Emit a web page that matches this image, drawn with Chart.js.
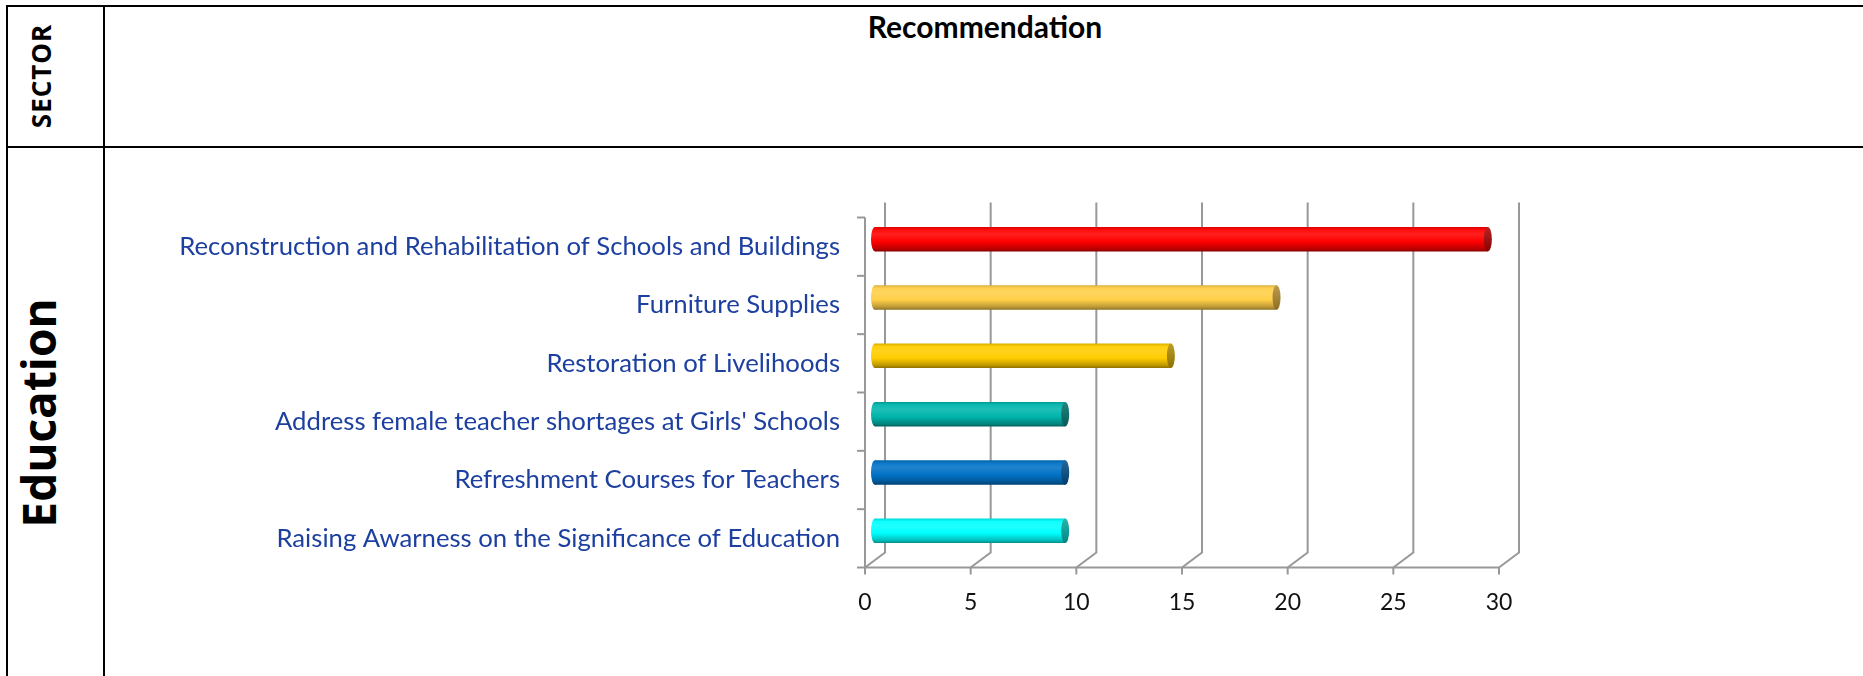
<!DOCTYPE html>
<html>
<head>
<meta charset="utf-8">
<title>Recommendation - Education</title>
<script src="https://cdn.jsdelivr.net/npm/chart.js@4/dist/chart.umd.min.js"></script>
<style>
  html, body { margin: 0; padding: 0; background: #fff; }
  body { width: 1863px; height: 676px; position: relative; overflow: hidden; }
  .rule { position: absolute; background: #000; }
  .vtext {
    position: absolute; transform: translate(-50%, -50%) rotate(-90deg);
    font-family: "Open Sans", sans-serif; font-weight: 700; color: #000; white-space: nowrap;
  }
  #head {
    position: absolute; left: 104px; width: 1762px; top: 8px; text-align: center;
    font-family: Lato, sans-serif; font-weight: 700; font-size: 30px; line-height: 36px; color: #000;
  }
  #chart { position: absolute; left: 104px; top: 149px; }
</style>
</head>
<body>
<!-- table frame -->
<div class="rule" style="left:6px; top:5px; width:1857px; height:2px;"></div>
<div class="rule" style="left:6px; top:5px; width:2px; height:671px;"></div>
<div class="rule" style="left:103px; top:5px; width:2px; height:671px;"></div>
<div class="rule" style="left:6px; top:146px; width:1857px; height:2px;"></div>

<div class="vtext" style="left:41px; top:76px; font-size:26px; letter-spacing:1px;">SECTOR</div>
<div id="head">Recommendation</div>
<div class="vtext" style="left:38px; top:413px; font-size:46px;">Education</div>

<canvas id="chart" width="1759" height="527"></canvas>

<script>
// categories, top to bottom
const categories = [
  'Reconstruction and Rehabilitation of Schools and Buildings',
  'Furniture Supplies',
  'Restoration of Livelihoods',
  "Address female teacher shortages at Girls' Schools",
  'Refreshment Courses for Teachers',
  'Raising Awarness on the Significance of Education'
];
const counts = [29, 19, 14, 9, 9, 9];
const barColors = ['#FF0000', '#FFCF48', '#FFCC00', '#00B5AC', '#0072C6', '#00FFFF'];
const capColors = ['#A80000', '#B08A2E', '#B08C00', '#00716B', '#004C88', '#00A8A2'];

const X_MIN = 0, X_MAX = 30, X_STEP = 5;
const BAR_PCT = 0.42;
// oblique depth of the 3D box (front -> back), bars sit half way in
const DEPTH_X = 20, DEPTH_Y = -15;
const GRID_COLOR = '#989898';

function mix(hex, toWhite, t) {
  const n = parseInt(hex.slice(1), 16);
  const r = n >> 16, g = (n >> 8) & 255, b = n & 255;
  const tg = toWhite ? 255 : 0;
  const f = c => Math.round(c + (tg - c) * t);
  return 'rgb(' + f(r) + ',' + f(g) + ',' + f(b) + ')';
}

function bodyGradient(ctx, base, c, h) {
  const g = ctx.createLinearGradient(0, c - h / 2, 0, c + h / 2);
  g.addColorStop(0, mix(base, false, 0.15));
  g.addColorStop(0.12, mix(base, true, 0.05));
  g.addColorStop(0.3, mix(base, true, 0.12));
  g.addColorStop(0.6, base);
  g.addColorStop(0.88, mix(base, false, 0.25));
  g.addColorStop(1, mix(base, false, 0.45));
  return g;
}

// cylinder-like shading across the bar thickness
function cylinderFill(context) {
  const chart = context.chart;
  const base = barColors[context.dataIndex];
  const yScale = chart.scales.y;
  if (!yScale || context.type !== 'data') return base;
  const c = yScale.getPixelForValue(context.dataIndex);
  const h = Math.abs(yScale.getPixelForValue(1) - yScale.getPixelForValue(0)) * BAR_PCT;
  if (!Number.isFinite(c) || !Number.isFinite(h) || h <= 0) return base;
  return bodyGradient(chart.ctx, base, c, h);
}

// back wall grid, floor diagonals and the front axes
const frame3d = {
  id: 'frame3d',
  beforeDatasetsDraw(chart) {
    const { ctx, chartArea: a, scales: { x } } = chart;
    const hx = DEPTH_X / 2, hy = DEPTH_Y / 2;
    const frontBottom = a.bottom - hy, frontTop = a.top - hy;
    ctx.save();
    ctx.strokeStyle = GRID_COLOR;
    ctx.lineWidth = 2;
    for (let v = X_MIN; v <= X_MAX; v += X_STEP) {
      const px = x.getPixelForValue(v);
      ctx.beginPath();
      ctx.moveTo(px + hx, a.top + hy);
      ctx.lineTo(px + hx, a.bottom + hy);
      ctx.lineTo(px - hx, frontBottom);
      ctx.stroke();
      // tick below the front axis
      ctx.beginPath();
      ctx.moveTo(px - hx, frontBottom);
      ctx.lineTo(px - hx, frontBottom + 7);
      ctx.stroke();
    }
    const x0 = x.getPixelForValue(X_MIN) - hx;
    const x1 = x.getPixelForValue(X_MAX) - hx;
    ctx.beginPath();
    ctx.moveTo(x0, frontBottom);
    ctx.lineTo(x1, frontBottom);
    ctx.moveTo(x0, frontTop);
    ctx.lineTo(x0, frontBottom);
    ctx.stroke();
    const n = categories.length;
    for (let i = 0; i <= n; i++) {
      const py = frontTop + (frontBottom - frontTop) * i / n;
      ctx.beginPath();
      ctx.moveTo(x0 - 8, py);
      ctx.lineTo(x0, py);
      ctx.stroke();
    }
    ctx.restore();
  },
  afterDatasetsDraw(chart) {
    const { ctx } = chart;
    const meta = chart.getDatasetMeta(0);
    ctx.save();
    meta.data.forEach((bar, i) => {
      const r = bar.height / 2;
      // rounded start of the cylinder
      ctx.beginPath();
      ctx.ellipse(bar.base, bar.y, 4, r, 0, 0, Math.PI * 2);
      ctx.fillStyle = bodyGradient(ctx, barColors[i], bar.y, bar.height);
      ctx.fill();
      // end face
      const g = ctx.createLinearGradient(0, bar.y - r, 0, bar.y + r);
      g.addColorStop(0, mix(capColors[i], true, 0.15));
      g.addColorStop(1, mix(capColors[i], false, 0.2));
      ctx.beginPath();
      ctx.ellipse(bar.x, bar.y, 4, r, 0, 0, Math.PI * 2);
      ctx.fillStyle = g;
      ctx.fill();
    });
    ctx.restore();
  }
};

function draw() {
  new Chart(document.getElementById('chart'), {
    type: 'bar',
    data: {
      labels: categories,
      datasets: [{
        data: counts,
        backgroundColor: cylinderFill,
        borderWidth: 0,
        borderSkipped: false,
        borderRadius: 0,
        barPercentage: BAR_PCT,
        categoryPercentage: 1
      }]
    },
    options: {
      indexAxis: 'y',
      responsive: false,
      animation: false,
      events: [],
      layout: { padding: { left: 0, top: 61, right: 354, bottom: 56 } },
      plugins: {
        legend: { display: false },
        title: { display: false },
        tooltip: { enabled: false }
      },
      scales: {
        x: {
          min: X_MIN,
          max: X_MAX,
          grid: { display: false, drawTicks: false },
          border: { display: false },
          ticks: {
            stepSize: X_STEP,
            padding: 29,
            labelOffset: -DEPTH_X / 2,
            color: '#111',
            font: { family: 'Lato', size: 23 }
          },
          afterFit: s => { s.height = 60; }
        },
        y: {
          grid: { display: false, drawTicks: false },
          border: { display: false },
          ticks: {
            padding: 35,
            labelOffset: -DEPTH_Y / 2,
            color: '#1C3FA0',
            font: { family: 'Lato', size: 25.7 }
          },
          afterFit: s => { s.width = 771; }
        }
      }
    },
    plugins: [frame3d]
  });
}

document.fonts.load('26px Lato').then(draw, draw);
</script>
</body>
</html>
